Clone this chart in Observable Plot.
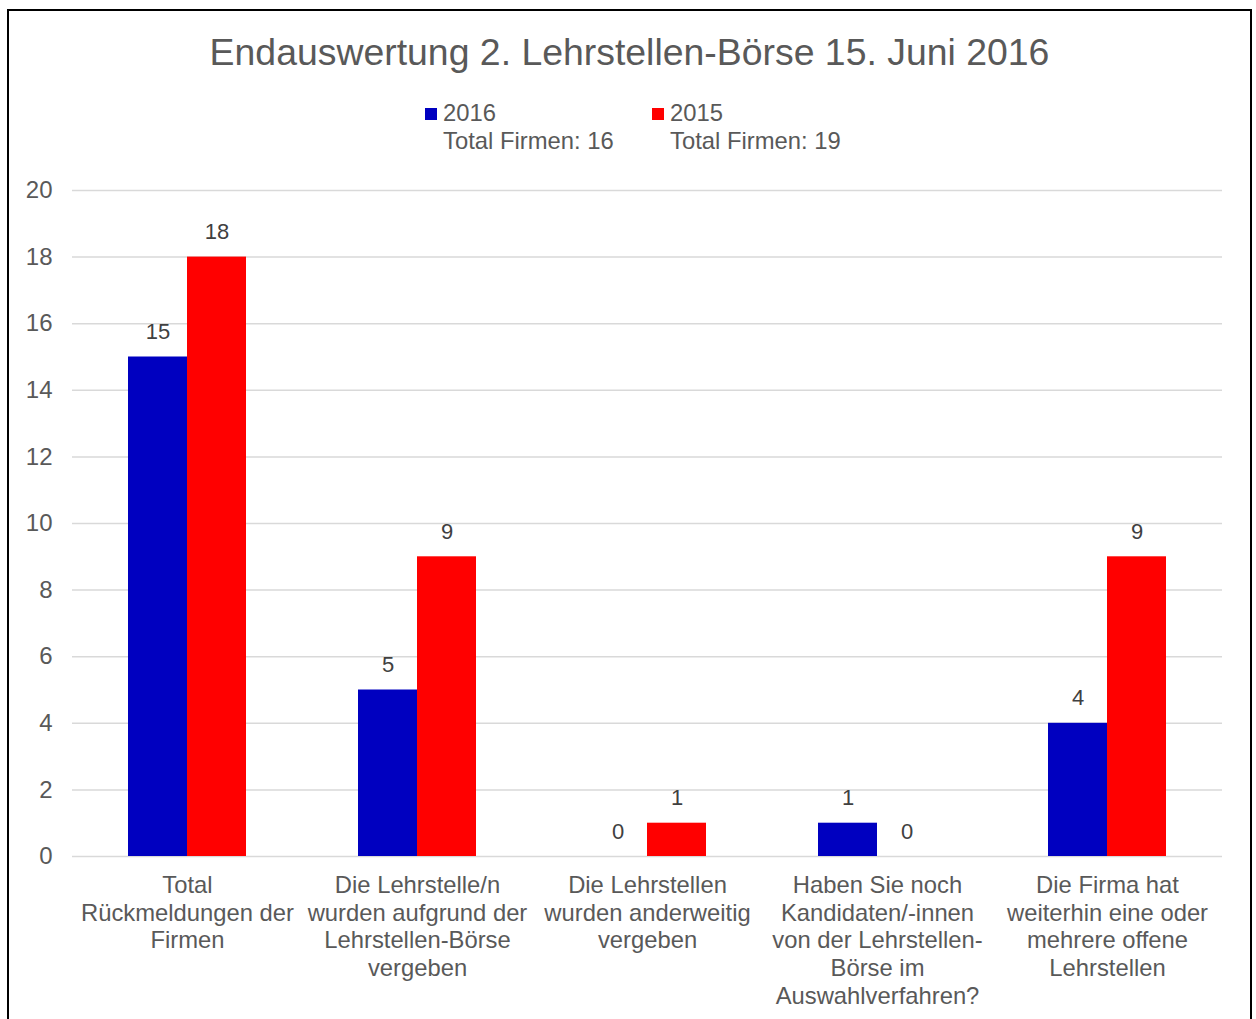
<!DOCTYPE html>
<html><head><meta charset="utf-8">
<script src="https://cdn.jsdelivr.net/npm/d3@7"></script>
<script src="https://cdn.jsdelivr.net/npm/@observablehq/plot@0.6"></script>
<style>
body{margin:0;background:#fff;font-family:"Liberation Sans",Arial,sans-serif;}
#wrap{position:relative;width:1256px;height:1019px;overflow:hidden;background:#fff;}
#frame{position:absolute;left:7px;top:9px;width:1245px;height:1040px;border:2px solid #000;box-sizing:border-box;}
#title{position:absolute;left:7px;width:1245px;top:29px;text-align:center;font-size:37.4px;color:#595959;line-height:46px;}
.leg{position:absolute;top:99px;font-size:23.8px;color:#595959;line-height:28px;white-space:nowrap;}
.sw{position:absolute;width:12px;height:12px;top:108px;}
#chart{position:absolute;left:0;top:0;}
</style></head>
<body>
<div id="wrap">
  <div id="frame"></div>
  <div id="title">Endauswertung 2. Lehrstellen-Börse 15. Juni 2016</div>
  <div id="legend"></div>
  <div id="chart"></div>
</div>
<script>
const categories = [
  "Total\nRückmeldungen der\nFirmen",
  "Die Lehrstelle/n\nwurden aufgrund der\nLehrstellen-Börse\nvergeben",
  "Die Lehrstellen\nwurden anderweitig\nvergeben",
  "Haben Sie noch\nKandidaten/-innen\nvon der Lehrstellen-\nBörse im\nAuswahlverfahren?",
  "Die Firma hat\nweiterhin eine oder\nmehrere offene\nLehrstellen"
];
const years = ["2016", "2015"];
const totals = ["Total Firmen: 16", "Total Firmen: 19"];
const colors = ["#0000C0", "#FF0000"];
const values2016 = [15, 5, 0, 1, 4];
const values2015 = [18, 9, 1, 0, 9];
const yTicks = [0, 2, 4, 6, 8, 10, 12, 14, 16, 18, 20];

const data = [];
categories.forEach((c, i) => {
  data.push({category: c, year: years[0], value: values2016[i]});
  data.push({category: c, year: years[1], value: values2015[i]});
});

// legend
const legend = document.getElementById("legend");
const legX = [425, 652];
years.forEach((y, i) => {
  const sw = document.createElement("div");
  sw.className = "sw"; sw.style.left = legX[i] + "px"; sw.style.background = colors[i];
  legend.appendChild(sw);
  const t = document.createElement("div");
  t.className = "leg"; t.style.left = (legX[i] + 18) + "px";
  t.innerHTML = y + "<br>" + totals[i];
  legend.appendChild(t);
});

const chart = Plot.plot({
  width: 1256,
  height: 1019,
  marginTop: 190,
  marginBottom: 163,
  marginLeft: 72,
  marginRight: 34,
  style: {fontFamily: "'Liberation Sans', Arial, sans-serif", background: "transparent"},
  fx: {domain: categories, padding: 0},
  x: {domain: years, paddingInner: 0, paddingOuter: 0.9167, axis: null},
  y: {domain: [0, 20]},
  color: {domain: years, range: colors},
  marks: [
    Plot.ruleY(yTicks, {stroke: "#D9D9D9", strokeWidth: 1.5}),
    Plot.barY(data, {fx: "category", x: "year", y: "value", fill: "year"}),
    Plot.text(data, {fx: "category", x: "year", y: "value", text: "value", dy: -25, fontSize: 22, fill: "#404040"}),
    Plot.axisY({ticks: yTicks, tickSize: 0, tickPadding: 20, fontSize: 24, color: "#595959", label: null}),
    Plot.axisFx({anchor: "bottom", tickSize: 0, tickPadding: 17, fontSize: 23.8, lineHeight: 1.16, color: "#595959", label: null})
  ]
});
document.getElementById("chart").appendChild(chart);
</script>
</body></html>
